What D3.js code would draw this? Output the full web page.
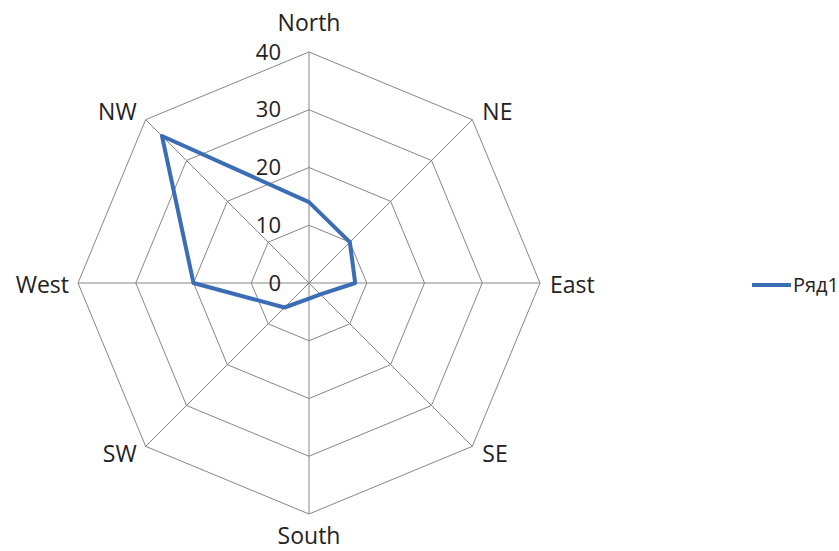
<!DOCTYPE html>
<html>
<head>
<meta charset="utf-8">
<script src="https://cdn.jsdelivr.net/npm/d3@7"></script>
<style>
  body { margin: 0; background: #fff; }
  text { font-family: "Open Sans", "Noto Sans", sans-serif; fill: #222; }
</style>
</head>
<body>
<div id="chart"></div>
<script>
var directions = ["North", "NE", "East", "SE", "South", "SW", "West", "NW"];
var values = [14, 10, 8, 2.8, 2.7, 6, 20, 36];
var ticks = [0, 10, 20, 30, 40];
var seriesName = "Ряд1";

var width = 839, height = 551;
var cx = 309, cy = 283, radius = 231;

var svg = d3.select("#chart").append("svg")
    .attr("width", width)
    .attr("height", height);

var g = svg.append("g")
    .attr("transform", "translate(" + cx + "," + cy + ")");

var rScale = d3.scaleLinear().domain([0, 40]).range([0, radius]);
var angle = d3.scalePoint().domain(directions).range([0, 2 * Math.PI * 7 / 8]);

function pt(dir, v) {
    var a = angle(dir);
    return [rScale(v) * Math.sin(a), -rScale(v) * Math.cos(a)];
}

// grid rings
var ring = d3.line().curve(d3.curveLinearClosed);
g.selectAll(".ring").data(ticks.slice(1))
  .enter().append("path")
    .attr("class", "ring")
    .attr("d", function (t) { return ring(directions.map(function (d) { return pt(d, t); })); })
    .attr("fill", "none")
    .attr("stroke", "#868686")
    .attr("stroke-width", 1);

// spokes
g.selectAll(".spoke").data(directions)
  .enter().append("line")
    .attr("x1", 0).attr("y1", 0)
    .attr("x2", function (d) { return pt(d, 40)[0]; })
    .attr("y2", function (d) { return pt(d, 40)[1]; })
    .attr("stroke", "#868686")
    .attr("stroke-width", 1);

// tick labels
g.selectAll(".tick").data(ticks)
  .enter().append("text")
    .attr("x", -28)
    .attr("y", function (t) { return -rScale(t); })
    .attr("dy", "0.35em")
    .attr("text-anchor", "end")
    .style("font-size", "22px")
    .text(function (t) { return t; });

// direction labels, placed just outside each vertex
g.selectAll(".dir").data(directions)
  .enter().append("text")
    .attr("x", function (d) {
        var s = Math.sin(angle(d));
        return pt(d, 40)[0] + (Math.abs(s) < 0.01 ? 0 : (s > 0 ? 10 : -9));
    })
    .attr("y", function (d) {
        var c = Math.cos(angle(d));
        var p = pt(d, 40)[1];
        if (Math.abs(Math.sin(angle(d))) > 0.99) return p + 2;
        if (c < -0.99) return p + 22;
        if (c > 0.99) return p - 29;
        return p - c * 11;
    })
    .attr("dy", "0.35em")
    .attr("text-anchor", function (d) {
        var s = Math.sin(angle(d));
        return Math.abs(s) < 0.01 ? "middle" : (s > 0 ? "start" : "end");
    })
    .style("font-size", "23px")
    .text(function (d) { return d; });

// series
g.append("path")
    .attr("d", ring(directions.map(function (d, i) { return pt(d, values[i]); })))
    .attr("fill", "none")
    .attr("stroke", "#3A6DB5")
    .attr("stroke-width", 4)
    .attr("stroke-linejoin", "round");

// legend
svg.append("line")
    .attr("x1", 752).attr("x2", 791)
    .attr("y1", 285).attr("y2", 285)
    .attr("stroke", "#3A6DB5")
    .attr("stroke-width", 4);
svg.append("text")
    .attr("x", 793)
    .attr("y", 285)
    .attr("dy", "0.35em")
    .style("font-size", "20px")
    .text(seriesName);
</script>
</body>
</html>
